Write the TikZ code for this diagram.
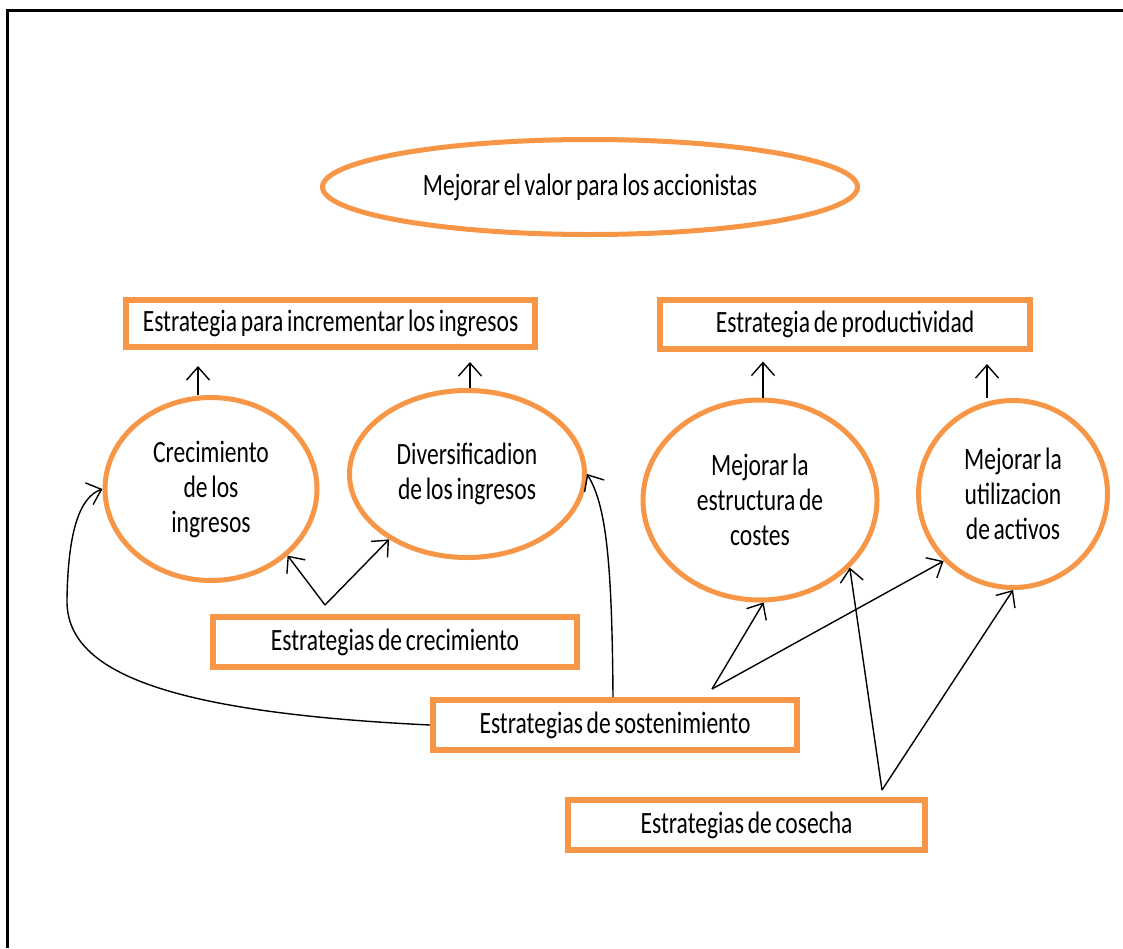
\documentclass[tikz,border=0pt]{standalone}
\usepackage{fontspec}
\setmainfont[FakeStretch=0.76,WordSpace=0.7]{Carlito}
\usetikzlibrary{shapes.geometric,arrows.meta}
\definecolor{accent}{HTML}{F79646}

\begin{document}
\begin{tikzpicture}[x=1pt,y=-1pt,
  every node/.style={font=\fontsize{31}{35}\selectfont},
  obox/.style={draw=accent,line width=6pt,rectangle,inner sep=0pt},
  oell/.style={draw=accent,line width=5pt,ellipse,inner sep=0pt,align=center},
  link/.style={draw=black,line width=1.4pt,-{Straight Barb[length=13pt,width=23pt,line width=1.4pt]}}
]
\useasboundingbox (0,0) rectangle (1123,948);
% outer frame (top and left edges)
\draw[line width=3pt] (7,948) -- (7,10) -- (1123,10);

% goal
\node[oell,minimum width=535pt,minimum height=95pt] (goal) at (590,187) {Mejorar el valor para los accionistas};

% strategy headers
\node[obox,minimum width=409pt,minimum height=47pt] (inc) at (330.5,323.5) {Estrategia para incrementar los ingresos};
\node[obox,minimum width=370pt,minimum height=49pt] (prod) at (845,324.5) {Estrategia de productividad};

% themes
\node[oell,minimum width=212pt,minimum height=183pt] (crec) at (211,489) {Crecimiento\\de los\\ingresos};
\node[oell,minimum width=235pt,minimum height=167pt] (div) at (467,474) {Diversificadion\\de los ingresos};
\node[oell,minimum width=234pt,minimum height=200pt] (estr) at (760,500) {Mejorar la\\estructura de\\costes};
\node[oell,minimum width=189pt,minimum height=187pt] (util) at (1013,494) {Mejorar la\\utilizacion\\de activos};

% strategies
\node[obox,minimum width=364pt,minimum height=50pt] (gro) at (395,642) {Estrategias de crecimiento};
\node[obox,minimum width=364pt,minimum height=50pt] (sost) at (615,725) {Estrategias de sostenimiento};
\node[obox,minimum width=357pt,minimum height=50pt] (cos) at (746.5,825) {Estrategias de cosecha};

% upward arrows towards the headers
\draw[link] ([xshift=-13pt]crec.north) -- ++(0,-29);
\draw[link] ([xshift=3pt]div.north) -- ++(0,-26);
\draw[link] ([xshift=3pt]estr.north) -- ++(0,-36);
\draw[link] ([xshift=-26pt]util.north) -- ++(0,-34);

% growth strategies
\coordinate (gv) at (325,605);
\draw[link] (gv) -- (crec.-41);
\draw[link] (gv) -- (div.220);

% sustain strategies
\draw[link] (sost.west) .. controls (160,712) and (66,670) .. (67,600)
  .. controls (68,530) and (80,497) .. (crec.west);
\draw[link] ([xshift=-2pt]sost.north) .. controls (612,560) and (606,505) .. (div.east);
\coordinate (sv) at (712,689);
\draw[link] (sv) -- (estr.-88);
\draw[link] (sv) -- (util.224);

% harvest strategies
\coordinate (hv) at (882,790);
\draw[link] (hv) -- (estr.-37);
\draw[link] (hv) -- (util.south);
\end{tikzpicture}
\end{document}
